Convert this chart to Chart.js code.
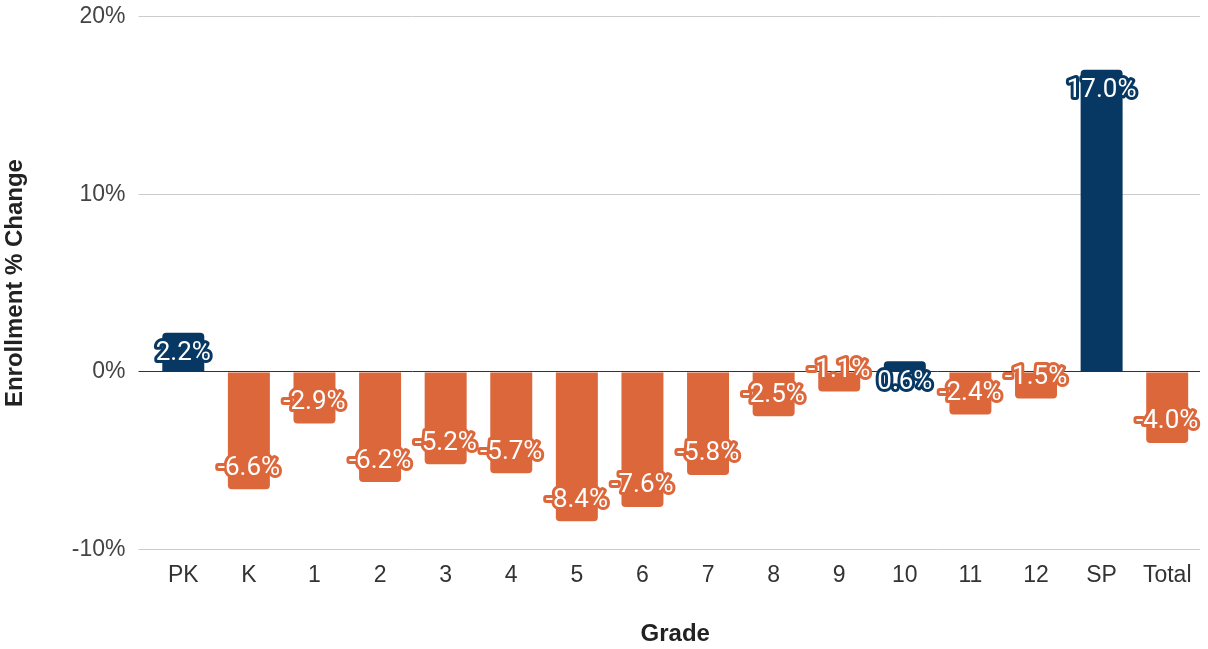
<!DOCTYPE html>
<html lang="en">
<head>
  <meta charset="UTF-8" />
  <title>Enrollment % Change by Grade</title>
  <script src="https://cdn.jsdelivr.net/npm/chart.js"></script>
  <style>
    html, body { margin: 0; padding: 0; background: #fff; overflow: hidden; }
    .chart { position: relative; top: -8px; width: 1208px; height: 657px; }
  </style>
</head>
<body>
  <div class="chart"><canvas id="gradeChart"></canvas></div>

  <script>
    const grades = ['PK', 'K', '1', '2', '3', '4', '5', '6', '7', '8', '9', '10', '11', '12', 'SP', 'Total'];
    const pctChange = [2.2, -6.6, -2.9, -6.2, -5.2, -5.7, -8.4, -7.6, -5.8, -2.5, -1.1, 0.6, -2.4, -1.5, 17.0, -4.0];
    const yTicks = [-10, 0, 10, 20];

    const navy = '#073763';
    const orange = '#dc673b';
    const barColors = pctChange.map(v => v >= 0 ? navy : orange);

    // white value labels with a halo in the bar colour, tucked inside the bar end
    const valueLabels = {
      id: 'valueLabels',
      afterDatasetsDraw(chart) {
        const ctx = chart.ctx;
        const meta = chart.getDatasetMeta(0);
        ctx.save();
        ctx.font = '26px Roboto';
        ctx.textAlign = 'center';
        ctx.textBaseline = 'middle';
        ctx.lineJoin = 'round';
        meta.data.forEach((bar, i) => {
          const v = pctChange[i];
          const y = bar.y + (v >= 0 ? 21 : -21);
          const txt = v.toFixed(1) + '%';
          ctx.lineWidth = 6;
          ctx.strokeStyle = barColors[i];
          ctx.strokeText(txt, bar.x, y);
          ctx.fillStyle = '#fff';
          ctx.fillText(txt, bar.x, y);
        });
        ctx.restore();
      }
    };

    new Chart(document.getElementById('gradeChart'), {
      type: 'bar',
      plugins: [valueLabels],
      data: {
        labels: grades,
        datasets: [{
          label: 'Enrollment % Change',
          data: pctChange,
          backgroundColor: barColors,
          borderRadius: 4,
          borderSkipped: 'start',
          categoryPercentage: 0.64,
          barPercentage: 1.0
        }]
      },
      options: {
        responsive: true,
        maintainAspectRatio: false,
        animation: false,
        layout: { padding: { top: 0, right: 8, left: 0, bottom: 0 } },
        plugins: {
          legend: { display: false },
          tooltip: { enabled: false }
        },
        scales: {
          x: {
            grid: { display: false, drawTicks: false },
            border: { display: false },
            ticks: { color: '#333', font: { family: 'Liberation Sans', size: 23 }, padding: 12 },
            title: {
              display: true,
              text: 'Grade',
              color: '#222',
              font: { family: 'Liberation Sans', size: 24, weight: 'bold' },
              padding: { top: 19, bottom: 0 }
            }
          },
          y: {
            min: -10,
            max: 20,
            afterBuildTicks: axis => { axis.ticks = yTicks.map(v => ({ value: v })); },
            border: { display: false },
            grid: {
              color: c => c.tick && c.tick.value === 0 ? '#333' : '#ccc',
              lineWidth: 1,
              tickLength: 12
            },
            ticks: {
              color: '#444',
              font: { family: 'Liberation Sans', size: 23, lineHeight: 1 },
              padding: 13,
              callback: v => v + '%'
            },
            title: {
              display: true,
              text: 'Enrollment % Change',
              color: '#222',
              font: { family: 'Liberation Sans', size: 24, weight: 'bold' },
              padding: { top: 1, bottom: 29 }
            }
          }
        }
      }
    });
  </script>
</body>
</html>
